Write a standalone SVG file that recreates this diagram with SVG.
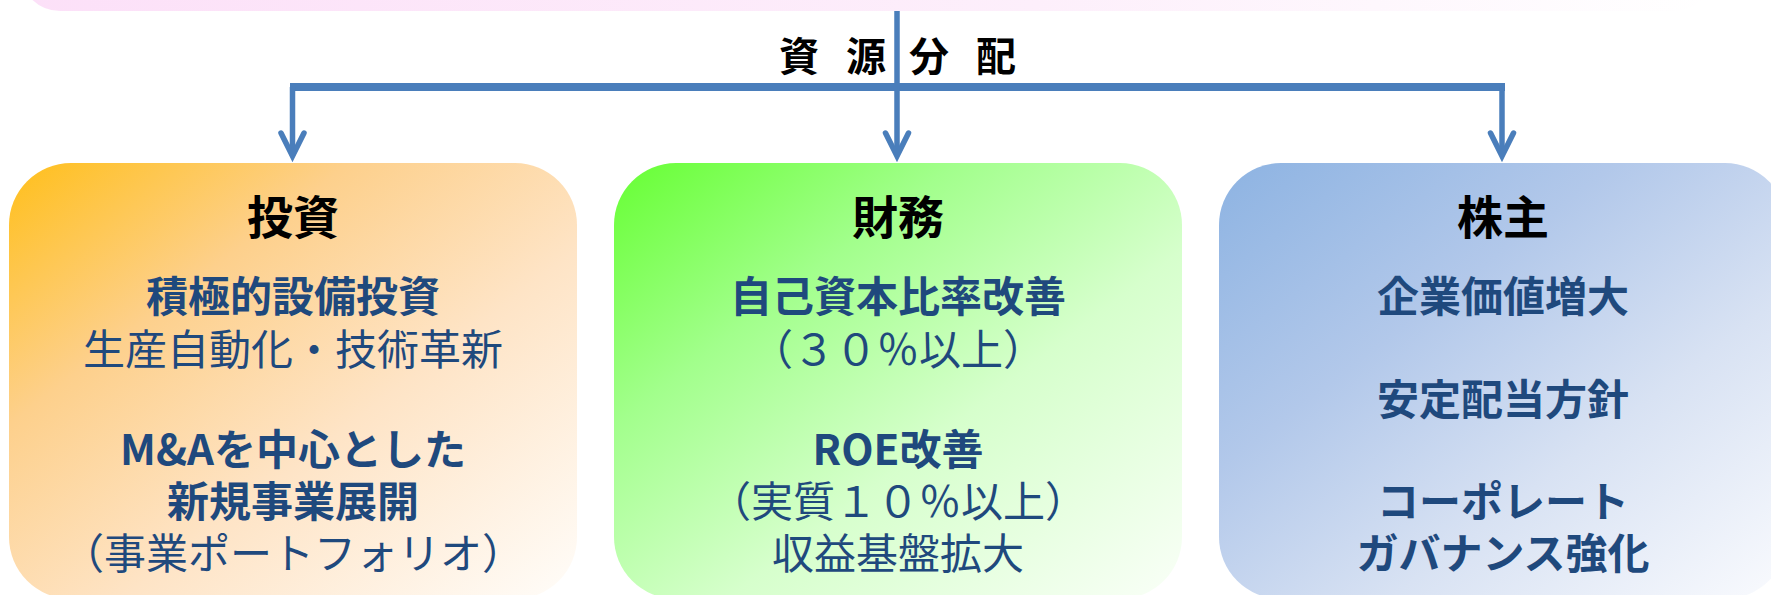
<svg xmlns="http://www.w3.org/2000/svg" width="1771" height="595" viewBox="0 0 1771 595">
  <defs>
    <linearGradient id="gPink" x1="0" y1="0" x2="1" y2="0">
      <stop offset="0" stop-color="#FCE0F8"/>
      <stop offset="0.6" stop-color="#FDEFFB"/>
      <stop offset="1" stop-color="#FFFFFF"/>
    </linearGradient>
    <linearGradient id="gOrange" x1="0" y1="0" x2="1" y2="1">
      <stop offset="0" stop-color="#FFBF1A"/>
      <stop offset="0.3" stop-color="#FDD08C"/>
      <stop offset="0.6" stop-color="#FEE4C6"/>
      <stop offset="1" stop-color="#FFFDFA"/>
    </linearGradient>
    <linearGradient id="gGreen" x1="0" y1="0" x2="1" y2="1">
      <stop offset="0" stop-color="#66FF33"/>
      <stop offset="0.3" stop-color="#A2FF8C"/>
      <stop offset="0.6" stop-color="#D6FFCC"/>
      <stop offset="1" stop-color="#FAFFF8"/>
    </linearGradient>
    <linearGradient id="gBlue" x1="0" y1="0" x2="1" y2="1">
      <stop offset="0" stop-color="#8DB3E2"/>
      <stop offset="0.35" stop-color="#B2C8EA"/>
      <stop offset="0.65" stop-color="#D8E2F3"/>
      <stop offset="1" stop-color="#FAFBFE"/>
    </linearGradient>
    <marker id="arrow" markerUnits="userSpaceOnUse" orient="auto" viewBox="-36 -18 40 36" refX="-6" refY="0" markerWidth="40" markerHeight="36" overflow="visible">
      <path d="M-29,-11.5 L-6,0 L-29,11.5" fill="none" stroke="#4A7EBB" stroke-width="5.5" stroke-linecap="round" stroke-linejoin="miter"/>
    </marker>
    <style>
      .box { stroke: none; }
      .title { font-family: "Noto Sans CJK JP", "Noto Sans", sans-serif; font-weight: bold; font-size: 46px; fill: #000000; text-anchor: middle; }
      .body { font-family: "Noto Sans CJK JP", "Noto Sans", sans-serif; font-size: 42px; fill: #1F497D; text-anchor: middle; }
      .b { font-weight: bold; }
      .r { font-weight: normal; }
      .lbl { font-family: "Noto Sans CJK JP", "Noto Sans", sans-serif; font-weight: bold; font-size: 40px; fill: #000000; text-anchor: middle; }
      .ln { fill: none; stroke: #4A7EBB; stroke-width: 5.5; }
      .bar { fill: none; stroke: #4A7EBB; stroke-width: 8; }
    </style>
  </defs>

  <g id="top-bar">
    <rect x="20" y="-70" width="1694" height="81" rx="40" fill="url(#gPink)"/>
  </g>

  <g id="label">
    <text class="lbl" x="799 866 929 996" y="71">資源分配</text>
  </g>

  <g id="connectors">
    <path class="ln" d="M897,11 V156" marker-end="url(#arrow)"/>
    <path class="bar" d="M290,87 H1505"/>
    <path class="ln" d="M292.5,87 V156" marker-end="url(#arrow)"/>
    <path class="ln" d="M1502,87 V156" marker-end="url(#arrow)"/>
  </g>

  <g id="node-invest">
    <rect class="box" x="9" y="163" width="568" height="436" rx="62" fill="url(#gOrange)"/>
    <text class="title" x="293" y="234">投資</text>
    <text class="body"><tspan class="b" x="293" y="312">積極的設備投資</tspan><tspan class="r" x="293" y="365">生産自動化・技術革新</tspan><tspan class="b" x="293" y="465">M&amp;Aを中心とした</tspan><tspan class="b" x="293" y="517">新規事業展開</tspan><tspan class="r" x="293" y="569">（事業ポートフォリオ）</tspan></text>
  </g>

  <g id="node-finance">
    <rect class="box" x="614" y="163" width="568" height="436" rx="62" fill="url(#gGreen)"/>
    <text class="title" x="898" y="234">財務</text>
    <text class="body"><tspan class="b" x="898" y="312">自己資本比率改善</tspan><tspan class="r" x="898" y="365">（３０％以上）</tspan><tspan class="b" x="898" y="465">ROE改善</tspan><tspan class="r" x="898" y="517">（実質１０％以上）</tspan><tspan class="r" x="898" y="569">収益基盤拡大</tspan></text>
  </g>

  <g id="node-shareholder">
    <rect class="box" x="1219" y="163" width="568" height="436" rx="62" fill="url(#gBlue)"/>
    <text class="title" x="1503" y="234">株主</text>
    <text class="body"><tspan class="b" x="1503" y="312">企業価値増大</tspan><tspan class="b" x="1503" y="415">安定配当方針</tspan><tspan class="b" x="1503" y="517">コーポレート</tspan><tspan class="b" x="1503" y="569">ガバナンス強化</tspan></text>
  </g>
</svg>
